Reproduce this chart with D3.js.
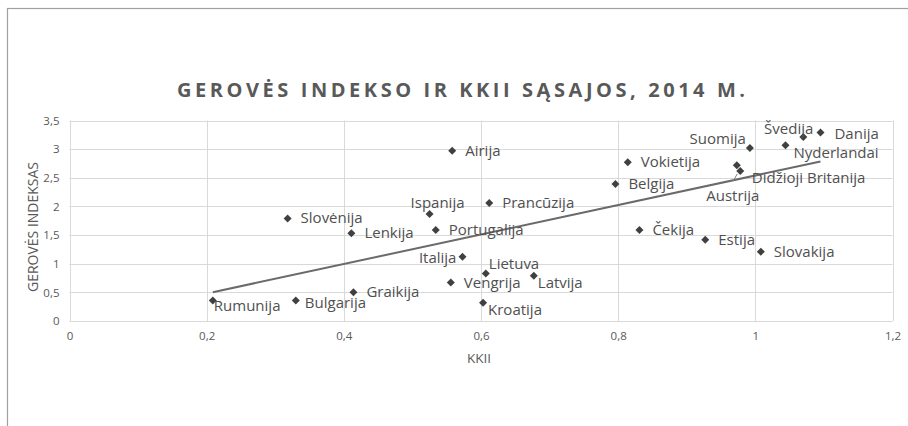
<!DOCTYPE html>
<html>
<head>
<meta charset="utf-8">
<script src="https://cdn.jsdelivr.net/npm/d3@7"></script>
<style>
  html, body { margin: 0; padding: 0; background: #fff; }
  svg { display: block; }
</style>
</head>
<body>
<svg id="chart" width="908" height="426"></svg>
<script>
// ---- data ----
const countries = ["Rumunija","Bulgarija","Graikija","Slovėnija","Lenkija","Ispanija","Portugalija","Italija","Airija","Prancūzija","Lietuva","Vengrija","Latvija","Kroatija","Belgija","Vokietija","Čekija","Estija","Slovakija","Suomija","Didžioji Britanija","Austrija","Nyderlandai","Švedija","Danija"];
const kkii = [0.209,0.330,0.414,0.318,0.411,0.525,0.534,0.573,0.558,0.612,0.607,0.556,0.677,0.603,0.796,0.814,0.831,0.927,1.008,0.992,0.973,0.978,1.044,1.070,1.095];
const gerove = [0.36,0.36,0.50,1.79,1.53,1.87,1.59,1.12,2.97,2.06,0.83,0.67,0.79,0.32,2.39,2.77,1.59,1.42,1.21,3.02,2.72,2.62,3.07,3.21,3.29];
const xTickValues = [0,0.2,0.4,0.6,0.8,1,1.2];
const xTickLabels = ["0","0,2","0,4","0,6","0,8","1","1,2"];
const yTickValues = [0,0.5,1,1.5,2,2.5,3,3.5];
const yTickLabels = ["0","0,5","1","1,5","2","2,5","3","3,5"];
const titleText = "GEROVĖS INDEKSO IR KKII SĄSAJOS, 2014 M.";
const xTitle = "KKII";
const yTitle = "GEROVĖS INDEKSAS";

// ---- label placement (layout, not data) ----
const labelPlace = {
  "Rumunija": {dx: 1, dy: 6},
  "Bulgarija": {dx: 9, dy: 3},
  "Ispanija": {dx: -19, dy: -11},
  "Italija": {dx: -6, dy: 1, anchor: "end"},
  "Lietuva": {dx: 3, dy: -9},
  "Latvija": {dx: 4, dy: 7},
  "Kroatija": {dx: 5, dy: 7},
  "Suomija": {dx: -4, dy: -9, anchor: "end"},
  "Austrija": {dx: -34, dy: 25, leader: true},
  "Didžioji Britanija": {dx: 15, dy: 13},
  "Nyderlandai": {dx: 8, dy: 8},
  "Švedija": {dx: 10, dy: -8, anchor: "end"},
  "Danija": {dx: 14, dy: 1}
};

const svg = d3.select("#chart");
const W = 908, H = 426;
const plot = {left: 69.5, right: 892.5, top: 120.5, bottom: 321};

// chart frame
svg.append("rect").attr("x", 7.5).attr("y", 8.5).attr("width", W + 20).attr("height", H + 20)
  .attr("fill", "#fff").attr("stroke", "#a0a0a0").attr("stroke-width", 1.2);

const x = d3.scaleLinear().domain([0, 1.2]).range([plot.left, plot.right]);
const y = d3.scaleLinear().domain([0, 3.5]).range([plot.bottom, plot.top]);

// gridlines
const grid = svg.append("g").attr("class", "grid");
grid.selectAll("line.h").data(yTickValues).join("line")
  .attr("x1", plot.left).attr("x2", plot.right)
  .attr("y1", d => Math.round(y(d)) + 0.5).attr("y2", d => Math.round(y(d)) + 0.5)
  .attr("stroke", "#d9d9d9").attr("stroke-width", 1);
grid.selectAll("line.v").data(xTickValues).join("line")
  .attr("y1", plot.top).attr("y2", plot.bottom)
  .attr("x1", d => Math.round(x(d)) + 0.5).attr("x2", d => Math.round(x(d)) + 0.5)
  .attr("stroke", "#d9d9d9").attr("stroke-width", 1);

// axes
const xAxis = d3.axisBottom(x).tickValues(xTickValues)
  .tickFormat((d, i) => xTickLabels[i]).tickSize(0).tickPadding(11);
const gx = svg.append("g").attr("transform", `translate(0,${plot.bottom})`).call(xAxis);
gx.select(".domain").remove();
gx.selectAll("text").attr("font-family", "Open Sans").attr("font-size", 11.5).attr("fill", "#595959");

const yAxis = d3.axisLeft(y).tickValues(yTickValues)
  .tickFormat((d, i) => yTickLabels[i]).tickSize(0).tickPadding(10);
const gy = svg.append("g").attr("transform", `translate(${plot.left},0)`).call(yAxis);
gy.select(".domain").remove();
gy.selectAll("text").attr("font-family", "Open Sans").attr("font-size", 11.5).attr("fill", "#595959");

// titles
svg.append("text").attr("x", 461).attr("y", 97).attr("text-anchor", "middle")
  .attr("font-family", "Open Sans").attr("font-weight", "bold").attr("font-size", 20)
  .attr("fill", "#595959").attr("textLength", 568).attr("lengthAdjust", "spacing")
  .text(titleText);
svg.append("text").attr("x", 479).attr("y", 363).attr("text-anchor", "middle")
  .attr("font-family", "Open Sans").attr("font-size", 13.5).attr("fill", "#595959").text(xTitle);
svg.append("text").attr("transform", "translate(38,227) rotate(-90)").attr("text-anchor", "middle")
  .attr("font-family", "Open Sans").attr("font-size", 14).attr("fill", "#595959").text(yTitle);

// trend line (least squares from data)
const mx = d3.mean(kkii), my = d3.mean(gerove);
const sxy = d3.sum(kkii, (v, i) => (v - mx) * (gerove[i] - my));
const sxx = d3.sum(kkii, v => (v - mx) * (v - mx));
const slope = sxy / sxx, icpt = my - slope * mx;
const [xmin, xmax] = d3.extent(kkii);
svg.append("line")
  .attr("x1", x(xmin)).attr("y1", y(icpt + slope * xmin))
  .attr("x2", x(xmax)).attr("y2", y(icpt + slope * xmax))
  .attr("stroke", "#6a6a6a").attr("stroke-width", 2);

// points
const pts = countries.map((c, i) => ({name: c, x: kkii[i], y: gerove[i]}));
const diamond = d3.symbol().type(d3.symbolSquare).size(32);
svg.append("g").selectAll("path").data(pts).join("path")
  .attr("d", diamond)
  .attr("transform", d => `translate(${x(d.x)},${y(d.y)}) rotate(45)`)
  .attr("fill", "#404040");

// labels
const lab = svg.append("g").attr("font-family", "Open Sans").attr("font-size", 15).attr("fill", "#505050");
pts.forEach(d => {
  const p = labelPlace[d.name] || {dx: 13, dy: 0};
  const px = x(d.x), py = y(d.y);
  lab.append("text")
    .attr("x", px + p.dx).attr("y", py + p.dy + 5)
    .attr("text-anchor", p.anchor || "start")
    .text(d.name);
  if (p.leader) {
    lab.append("line").attr("x1", px - 7).attr("y1", py + 10).attr("x2", px - 3).attr("y2", py + 3)
      .attr("stroke", "#7f7f7f").attr("stroke-width", 1);
  }
});
</script>
</body>
</html>
